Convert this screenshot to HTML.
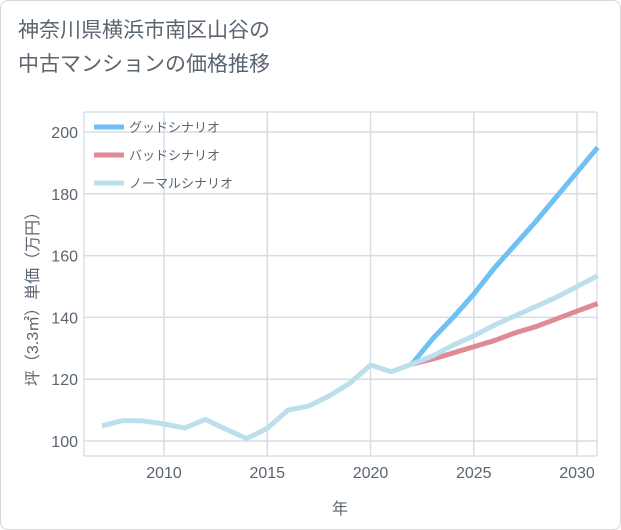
<!DOCTYPE html>
<html><head><meta charset="utf-8"><style>
body{margin:0;width:621px;height:530px;background:#fff;font-family:"Liberation Sans","Noto Sans CJK JP",sans-serif;}
.card{position:absolute;left:0;top:0;width:619px;height:528px;border:1px solid #d8d8d8;border-radius:8px;background:#fff;}
.title{position:absolute;left:18px;top:14px;font-size:21px;line-height:34px;color:#5a6570;}
</style></head><body>
<div class="card"></div>
<div class="title">神奈川県横浜市南区山谷の<br>中古マンションの価格推移</div>
<svg id="c" width="621" height="530" style="position:absolute;left:0;top:0"></svg>
<script>
const years=[2007,2008,2009,2010,2011,2012,2013,2014,2015,2016,2017,2018,2019,2020,2021,2022,2023,2024,2025,2026,2027,2028,2029,2030,2031];
const normalVals=[104.9,106.6,106.5,105.5,104.2,107.0,103.8,100.8,104.1,110.0,111.3,114.6,118.7,124.6,122.4,124.9,127.5,131,134,137.5,140.5,143.5,146.5,150,153.5];
const goodYears=[2022,2023,2024,2025,2026,2027,2028,2029,2030,2031];
const goodVals=[124.9,133,140,147.5,156,163.5,171,179,187,195];
const badVals=[124.9,126.5,128.5,130.5,132.5,135,137,139.5,142,144.5];
const yTicks=[100,120,140,160,180,200];
const xTicks=[2010,2015,2020,2025,2030];
const L=84,R=597,T=112,B=456;
const X=y=>164+(y-2010)*20.65;
const Y=v=>441-(v-100)*3.09;
const s=document.getElementById('c');const NS='http://www.w3.org/2000/svg';
function mk(t,a){const e=document.createElementNS(NS,t);for(const k in a)e.setAttribute(k,a[k]);s.appendChild(e);return e;}
const bg=mk('rect',{x:L,y:T,width:R-L,height:B-T,fill:'#fff',stroke:'#c9d3dc'});


yTicks.forEach(v=>{const g=mk('line',{x1:L,x2:R,y1:Y(v),y2:Y(v),stroke:'#d5dde5','stroke-width':1.5});


const t=mk('text',{x:L-6,y:Y(v)+6,'text-anchor':'end','font-size':16,fill:'#5a6570'});t.textContent=v;

});
xTicks.forEach(v=>{const g=mk('line',{x1:X(v),x2:X(v),y1:T,y2:B,stroke:'#d5dde5','stroke-width':1.5});


const t=mk('text',{x:X(v),y:478,'text-anchor':'middle','font-size':16,fill:'#5a6570'});t.textContent=v;

});
const xt=mk('text',{x:340,y:514,'text-anchor':'middle','font-size':16,fill:'#5a6570'});xt.textContent='年';


const yt=mk('text',{x:0,y:0,'text-anchor':'middle','font-size':16,fill:'#5a6570',transform:'translate(38,295) rotate(-90)'});yt.textContent='坪（3.3㎡）単価（万円）';


function line(xs,vs,col,name){const p=mk('polyline',{points:xs.map((y,i)=>X(y)+','+Y(vs[i])).join(' '),fill:'none',stroke:col,'stroke-width':5,'stroke-linejoin':'round'});

}
line(goodYears,goodVals,'#6ec0f5','good-scenario-line');
line(goodYears,badVals,'#e08a93','bad-scenario-line');
line(years,normalVals,'#bcdfeb','normal-scenario-line');
[['グッドシナリオ','#6ec0f5'],['バッドシナリオ','#e08a93'],['ノーマルシナリオ','#bcdfeb']].forEach((d,i)=>{const y=127+i*28;
const l=mk('line',{x1:94,x2:124,y1:y,y2:y,stroke:d[1],'stroke-width':5});


const t=mk('text',{x:129,y:y+5,'font-size':13,fill:'#5a6570'});t.textContent=d[0];

});
</script>
</body></html>
